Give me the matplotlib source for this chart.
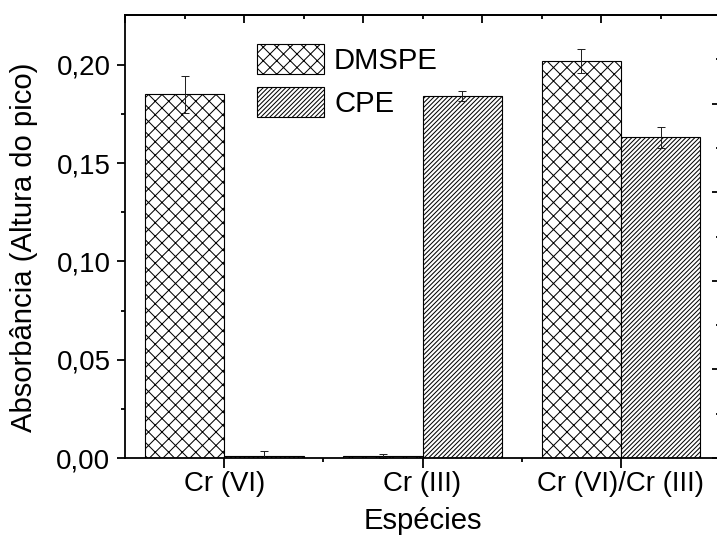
import numpy as np
import matplotlib
matplotlib.use("Agg")
import matplotlib.pyplot as plt

categories = ["Cr (VI)", "Cr (III)", "Cr (VI)/Cr (III)"]
dmspe = [0.185, 0.001, 0.202]
dmspe_err = [0.0095, 0.001, 0.006]
cpe = [0.001, 0.184, 0.163]
cpe_err = [0.0027, 0.0025, 0.0053]
series_names = ["DMSPE", "CPE"]
ytick_vals = [0.0, 0.05, 0.10, 0.15, 0.20]
ytick_labels = ["0,00", "0,05", "0,10", "0,15", "0,20"]

plt.rcParams['font.family'] = ['Liberation Sans', 'DejaVu Sans']
plt.rcParams['hatch.linewidth'] = 0.9

DPI = 81
fig = plt.figure(figsize=(717 / DPI, 536 / DPI), dpi=DPI)
ax = fig.add_axes([125 / 717, 1 - 458 / 536, (720 - 125) / 717, (458 - 15) / 536])

x = np.arange(len(categories))
w = 0.4
b1 = ax.bar(x - w / 2, dmspe, width=w, facecolor='white', edgecolor='black',
            hatch='xx', linewidth=1.0, label=series_names[0])
b2 = ax.bar(x + w / 2, cpe, width=w, facecolor='white', edgecolor='black',
            hatch='//////', linewidth=1.0, label=series_names[1])
ax.errorbar(x - w / 2, dmspe, yerr=dmspe_err, fmt='none', ecolor='#222222',
            elinewidth=0.9, capsize=3.8, capthick=0.9)
ax.errorbar(x + w / 2, cpe, yerr=cpe_err, fmt='none', ecolor='#222222',
            elinewidth=0.9, capsize=3.8, capthick=0.9)

ylim_top = 0.2253
ax.set_xlim(-0.5, len(categories) - 0.5)
ax.set_ylim(0, ylim_top)

ax.set_xticks(x)
ax.set_xticklabels(categories, fontsize=24.5)
ax.set_xticks(x[:-1] + 0.5, minor=True)
ax.set_yticks(ytick_vals)
ax.set_yticklabels(ytick_labels, fontsize=24.5)
ax.set_yticks(np.arange(0.025, 0.225, 0.05), minor=True)

for s in ax.spines.values():
    s.set_linewidth(1.6)
ax.tick_params(axis='both', which='major', direction='out', length=7.5, width=1.6, pad=3)
ax.tick_params(axis='both', which='minor', direction='out', length=3.8, width=1.6)
ax.tick_params(axis='x', which='major', length=8.5)
ax.tick_params(axis='y', which='major', pad=5.5)

# opposite axes (top / right) with their own divisions
top = ax.secondary_xaxis('top')
xl = ax.get_xlim()
top.set_xticks(np.linspace(xl[0], xl[1], 6))
top.set_xticks(np.linspace(xl[0], xl[1], 11)[1::2], minor=True)
top.set_xticklabels([])
top.tick_params(which='major', direction='in', length=7.5, width=1.6)
top.tick_params(which='minor', direction='in', length=3.8, width=1.6)
top.spines['top'].set_linewidth(1.6)

right = ax.secondary_yaxis('right')
right.set_yticks(np.linspace(0, ylim_top, 6))
right.set_yticks(np.linspace(0, ylim_top, 11)[1::2], minor=True)
right.set_yticklabels([])
right.tick_params(which='major', direction='in', length=7.5, width=1.6)
right.tick_params(which='minor', direction='in', length=3.8, width=1.6)
right.spines['right'].set_linewidth(1.6)

ax.set_xlabel("Espécies", fontsize=26, labelpad=9)
ax.set_ylabel("Absorbância (Altura do pico)", fontsize=26)
ax.yaxis.set_label_coords(-0.147, 0.475)

ax.legend(loc='upper left', bbox_to_anchor=(0.222, 0.935), frameon=False,
          fontsize=26, handlelength=2.3, handleheight=1.2, handletextpad=0.33,
          labelspacing=0.42, borderpad=0, borderaxespad=0)

fig.savefig("out.png", dpi=DPI)
